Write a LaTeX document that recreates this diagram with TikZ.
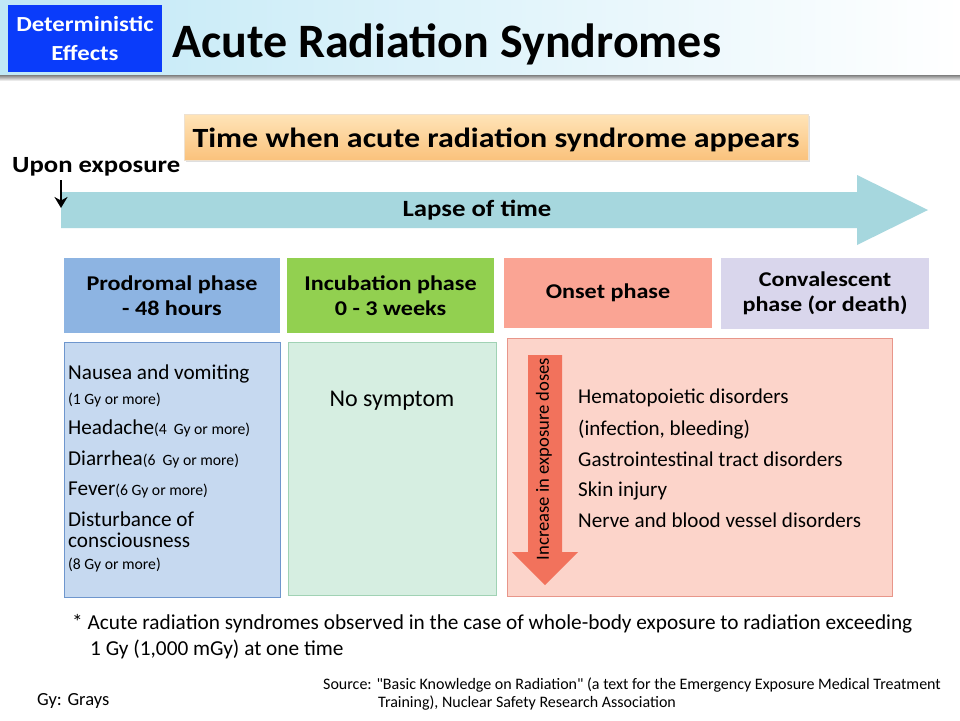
\documentclass[tikz,border=0pt]{standalone}
\usepackage{fontspec}
\setmainfont{Carlito}
\newfontfamily\widebf{Carlito}[FakeStretch=1.15]
\usetikzlibrary{arrows.meta,shadows}

\definecolor{hdrblue}{RGB}{10,60,250}
\definecolor{hdrsky}{RGB}{192,232,246}
\definecolor{timeorange}{RGB}{250,194,124}
\definecolor{timelight}{RGB}{255,228,184}
\definecolor{lapsecyan}{RGB}{166,215,222}
\definecolor{prodblue}{RGB}{141,180,226}
\definecolor{prodlight}{RGB}{198,217,240}
\definecolor{prodedge}{RGB}{110,150,205}
\definecolor{incgreen}{RGB}{146,208,80}
\definecolor{inclight}{RGB}{214,238,225}
\definecolor{incedge}{RGB}{160,210,180}
\definecolor{onsetred}{RGB}{250,164,148}
\definecolor{onsetlight}{RGB}{252,212,202}
\definecolor{onsetedge}{RGB}{232,150,138}
\definecolor{convlav}{RGB}{217,214,236}
\definecolor{dosered}{RGB}{242,114,92}

\newcommand{\fs}[1]{\fontsize{#1}{#1}\selectfont}

\begin{document}
\begin{tikzpicture}[x=1pt,y=-1pt,
  phase/.style={inner sep=0pt,align=center,font=\widebf\fs{21}\bfseries},
  item/.style={inner sep=0pt,anchor=base west,font=\fs{21.2}},
  small/.style={font=\fs{15.7}}]
  \fill[white] (0,0) rectangle (960,720);
  % header band
  \shade[left color=hdrsky,right color=white] (0,0) rectangle (960,75);
  \shade[top color=black!50,bottom color=white] (0,75) rectangle (960,81);
  \node[fill=hdrblue,text=white,minimum width=154,minimum height=67,inner sep=0pt,
    align=center,font=\widebf\fs{21.5}\bfseries] (tag) at (85,38.5) {Deterministic\\[8pt]Effects};
  \node[anchor=base west,inner sep=0pt,font=\fs{48}\bfseries] (title) at (172,57) {Acute Radiation Syndromes};

  % time line
  \node[draw=timeorange!80!black!30,top color=timelight,bottom color=timeorange,drop shadow={opacity=0.25},
    minimum width=624,minimum height=46,inner sep=0pt] (when) at (496,137) {};
  \node[font=\widebf\fs{27.8}\bfseries,inner sep=0pt] (whentxt) at (496,140) {Time when acute radiation syndrome appears};
  \node[anchor=base west,inner sep=0pt,font=\widebf\fs{23.2}\bfseries] (upon) at (12,172) {Upon exposure};
  \fill[lapsecyan] (61,192) -- (857,192) -- (857,175) -- (928,210) -- (857,245) -- (857,228) -- (61,228) -- cycle;
  \coordinate (t0) at (61,208);
  \draw[line width=2.6pt,-{Stealth[length=11pt,width=13pt]}] (61,180) -- (t0);
  \node[font=\widebf\fs{23.3}\bfseries,inner sep=0pt] (lapse) at (477,210) {Lapse of time};

  % phases
  \node[phase,fill=prodblue,minimum width=216,minimum height=75] (prod) at (172,295.5) {Prodromal phase\\[4pt]- 48 hours};
  \node[phase,fill=incgreen,minimum width=207,minimum height=75] (incu) at (390.5,295.5) {Incubation phase\\[4pt]0 - 3 weeks};
  \node[phase,fill=onsetred,minimum width=208,minimum height=70] (onset) at (608,293) {Onset phase};
  \node[phase,fill=convlav,minimum width=208,minimum height=71] (conv) at (825,293.5) {Convalescent\\[4pt]phase (or death)};

  % contents
  \draw[prodedge,fill=prodlight] (64,342) rectangle (280,597);
  \draw[incedge,fill=inclight] (288,342) rectangle (496,595);
  \draw[onsetedge,fill=onsetlight] (507,338) rectangle (892,596);

  \node[item] (nausea) at (68,379) {Nausea and vomiting};
  \node[item,small] (n1) at (68,404) {(1 Gy or more)};
  \node[item] (head) at (68,434) {Headache{\fs{15.7}(4~ Gy or more)}};
  \node[item] (diar) at (68,465) {Diarrhea{\fs{15.7}(6~ Gy or more)}};
  \node[item] (fever) at (68,495) {Fever{\fs{15.7}(6 Gy or more)}};
  \node[item] (dist) at (68,526) {Disturbance of};
  \node[item] (cons) at (68,547) {consciousness};
  \node[item,small] (n8) at (68,569) {(8 Gy or more)};

  \node[font=\fs{24},inner sep=0pt] (nosym) at (392,401) {No symptom};

  \fill[dosered] (528,355) -- (562,355) -- (562,552) -- (578,552) -- (545,585) -- (512,552) -- (528,552) -- cycle;
  \node[rotate=90,font=\fs{18.6},inner sep=0pt] (dose) at (544,459) {Increase in exposure doses};
  \foreach \yy/\txt in {403/Hematopoietic disorders,435/{(infection, bleeding)},466/Gastrointestinal tract disorders,
    496/Skin injury,527/Nerve and blood vessel disorders}
    \node[item,font=\fs{21.1}] (sym\yy) at (578,\yy) {\txt};

  % notes
  \node[anchor=base west,inner sep=0pt,font=\fs{21.3}] (note1) at (72,629) {* Acute radiation syndromes observed in the case of whole-body exposure to radiation exceeding};
  \node[anchor=base west,inner sep=0pt,font=\fs{21.3}] (note2) at (90,655) {1 Gy (1,000 mGy) at one time};
  \node[anchor=base west,inner sep=0pt,font=\fs{18.5}] (gray) at (37,705) {Gy: Grays};
  \node[anchor=base west,inner sep=0pt,font=\fs{16}] (src1) at (323,689) {Source: \textquotedbl Basic Knowledge on Radiation\textquotedbl{} (a text for the Emergency Exposure Medical Treatment};
  \node[anchor=base west,inner sep=0pt,font=\fs{16}] (src2) at (378,707) {Training), Nuclear Safety Research Association};
\end{tikzpicture}
\end{document}
